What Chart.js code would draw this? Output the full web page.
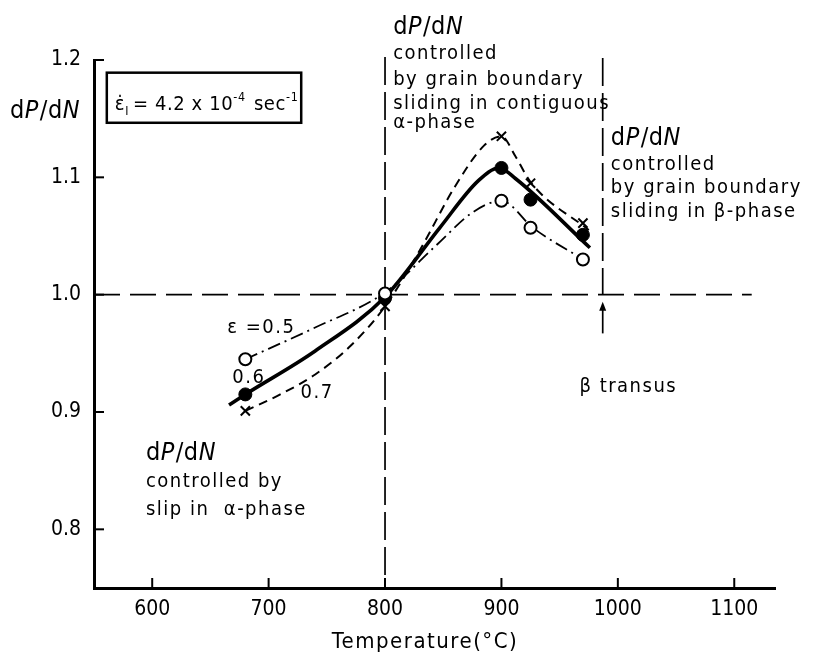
<!DOCTYPE html>
<html><head><meta charset="utf-8">
<script src="https://cdn.jsdelivr.net/npm/chart.js@4/dist/chart.umd.min.js"></script>
<style>html,body{margin:0;padding:0;background:#fff;}canvas{display:block}</style>
</head><body>
<canvas id="c" width="817" height="655"></canvas>
<script>
// ---- data ----
const temperatures = [680, 800, 900, 925, 970];          // °C
const eps05 = [0.945, 1.001, 1.080, 1.057, 1.030];       // open circles
const eps06 = [0.915, 0.997, 1.108, 1.081, 1.051];       // filled circles
const eps07 = [0.901, 0.990, 1.135, 1.095, 1.061];       // crosses

// hand-drawn curves, points
const curve05T = [680, 740, 800, 845, 875, 900, 927, 970];
const curve05V = [0.945, 0.972, 1.002, 1.043, 1.070, 1.080, 1.057, 1.030];
const curve06T = [666, 680, 740, 800, 847, 880, 898, 912, 976];
const curve06V = [0.906, 0.915, 0.952, 0.998, 1.057, 1.097, 1.108, 1.099, 1.040];
const curve07T = [680, 710, 740, 770, 800, 830, 860, 885, 900, 912, 925, 975];
const curve07V = [0.901, 0.915, 0.932, 0.956, 0.990, 1.038, 1.092, 1.127, 1.135, 1.118, 1.096, 1.055];

const xTicks = [600, 700, 800, 900, 1000, 1100];
const xTickLabels = ['600', '700', '800', '900', '1000', '1100'];
const yTicks = [0.8, 0.9, 1.0, 1.1, 1.2];
const yTickLabels = ['0.8', '0.9', '1.0', '1.1', '1.2'];

const referenceLevel = 1.0;
const alphaBoundaryT = 800;
const betaTransusT = 987;

// ---- helpers ----
const pts = (xs, ys) => xs.map((x, i) => ({x, y: ys[i]}));
const TXT = '"DejaVu Sans Condensed", "DejaVu Sans", sans-serif';

function drawRich(ctx, parts, x, y, size) {
  let cx = x;
  for (const p of parts) {
    const s = size * (p.scale || 1);
    ctx.font = (p.it ? 'italic ' : '') + s + 'px ' + TXT;
    ctx.fillText(p.t, cx, y + (p.dy || 0));
    cx += ctx.measureText(p.t).width + (p.gap || 0);
  }
  return cx;
}
const dPdN = [{t:'d'}, {t:'P', it:true, gap:1}, {t:'/'}, {t:'d'}, {t:'N', it:true}];

// text blocks anchored in data coordinates
const annotations = [
  {T: 807, lines: [[dPdN, 1.222], ['controlled', 1.2006], ['by grain boundary', 1.1787], ['sliding in contiguous', 1.158], ['α-phase', 1.1418]]},
  {T: 994, lines: [[dPdN, 1.1275], ['controlled', 1.1062], ['by grain boundary', 1.0869], ['sliding in β-phase', 1.0659]]},
  {T: 594.6, lines: [[dPdN, 0.859], ['controlled by', 0.8357], ['slip in  α-phase', 0.8121]]},
  {T: 967, lines: [['β transus', 0.917]]},
  {T: 664.5, lines: [['ε =0.5', 0.967]]},
  {T: 668.8, lines: [['0.6', 0.9246]]},
  {T: 727.4, lines: [['0.7', 0.9118]]}
];

const decor = {
  id: 'decor',
  beforeDatasetsDraw(chart) {
    const {ctx, scales: {x, y}, chartArea: a} = chart;
    ctx.save();
    ctx.strokeStyle = '#000';
    ctx.lineWidth = 1.7;
    ctx.setLineDash([26, 10]);
    ctx.beginPath();
    ctx.moveTo(a.left, y.getPixelForValue(referenceLevel));
    ctx.lineTo(x.getPixelForValue(1115), y.getPixelForValue(referenceLevel));
    ctx.stroke();
    ctx.setLineDash([28, 7]);
    ctx.beginPath();
    ctx.moveTo(x.getPixelForValue(alphaBoundaryT), a.top - 3);
    ctx.lineTo(x.getPixelForValue(alphaBoundaryT), a.bottom);
    ctx.stroke();
    ctx.beginPath();
    ctx.moveTo(x.getPixelForValue(betaTransusT), a.top - 2);
    ctx.lineTo(x.getPixelForValue(betaTransusT), y.getPixelForValue(referenceLevel));
    ctx.stroke();
    ctx.setLineDash([]);
    const ax = x.getPixelForValue(betaTransusT);
    const y0 = y.getPixelForValue(0.967), y1 = y.getPixelForValue(0.994);
    ctx.beginPath(); ctx.moveTo(ax, y0); ctx.lineTo(ax, y1 + 6); ctx.stroke();
    ctx.beginPath(); ctx.moveTo(ax, y1); ctx.lineTo(ax - 3.5, y1 + 9); ctx.lineTo(ax + 3.5, y1 + 9); ctx.closePath();
    ctx.fillStyle = '#000'; ctx.fill();
    ctx.restore();
  },
  afterDraw(chart) {
    const {ctx, scales: {x, y}, chartArea: a} = chart;
    ctx.save();
    ctx.strokeStyle = '#000'; ctx.fillStyle = '#000';
    ctx.lineWidth = 2;
    for (const t of xTicks) {
      const px = x.getPixelForValue(t);
      ctx.beginPath(); ctx.moveTo(px, a.bottom); ctx.lineTo(px, a.bottom - 10); ctx.stroke();
    }
    for (const t of yTicks) {
      const py = y.getPixelForValue(t);
      ctx.beginPath(); ctx.moveTo(a.left, py); ctx.lineTo(a.left + 10, py); ctx.stroke();
    }
    ctx.textBaseline = 'alphabetic';
    ctx.letterSpacing = '0.5px';
    drawRich(ctx, dPdN, 10, 118, 25);
    ctx.font = '22px ' + TXT;
    ctx.letterSpacing = '1.5px';
    ctx.textAlign = 'center';
    ctx.fillText('Temperature(°C)', 425, 648);
    ctx.textAlign = 'left';
    for (const blk of annotations) {
      const px = x.getPixelForValue(blk.T);
      for (const [content, v] of blk.lines) {
        const py = y.getPixelForValue(v);
        if (Array.isArray(content)) {
          ctx.letterSpacing = '0.5px';
          drawRich(ctx, content, px, py, 25);
        } else {
          ctx.letterSpacing = '1.5px';
          ctx.font = '20px ' + TXT;
          ctx.fillText(content, px, py);
        }
      }
    }
    ctx.letterSpacing = '0.6px';
    const bl = x.getPixelForValue(561), br = x.getPixelForValue(728);
    const bt = y.getPixelForValue(1.1892), bb = y.getPixelForValue(1.1465);
    ctx.lineWidth = 2.5;
    ctx.strokeRect(bl, bt, br - bl, bb - bt);
    const by = y.getPixelForValue(1.1575);
    drawRich(ctx, [
      {t:'ε̇'}, {t:'I', scale:0.6, dy:5, gap:4}, {t:'= 4.2 x 10'},
      {t:'-4', scale:0.62, dy:-9, gap:2}, {t:' sec'}, {t:'-1', scale:0.62, dy:-9}
    ], bl + 8, by, 20);
    ctx.restore();
  }
};

const lineCommon = {showLine: true, pointRadius: 0, borderColor: '#000', fill: false,
  cubicInterpolationMode: 'monotone', order: 1};

new Chart(document.getElementById('c'), {
  type: 'scatter',
  data: {
    datasets: [
      Object.assign({label: 'ε=0.5 curve', data: pts(curve05T, curve05V), borderWidth: 1.8, borderDash: [13, 5, 2, 5]}, lineCommon),
      Object.assign({label: 'ε=0.6 curve', data: pts(curve06T, curve06V), borderWidth: 3.6}, lineCommon),
      Object.assign({label: 'ε=0.7 curve', data: pts(curve07T, curve07V), borderWidth: 2, borderDash: [9, 6]}, lineCommon),
      {label: 'ε=0.5', data: pts(temperatures, eps05), pointStyle: 'circle', pointRadius: 6,
       backgroundColor: '#fff', borderColor: '#000', borderWidth: 2, order: 0},
      {label: 'ε=0.6', data: pts(temperatures, eps06), pointStyle: 'circle', pointRadius: 6.5,
       backgroundColor: '#000', borderColor: '#000', borderWidth: 1, order: 0},
      {label: 'ε=0.7', data: pts(temperatures, eps07), pointStyle: 'crossRot', pointRadius: 6.5,
       backgroundColor: '#000', borderColor: '#000', borderWidth: 2, order: 0}
    ]
  },
  options: {
    responsive: false, animation: false, events: [],
    layout: {padding: {top: 60, right: 42, left: 0, bottom: 0}},
    plugins: {legend: {display: false}, tooltip: {enabled: false}},
    scales: {
      x: {type: 'linear', min: 550, max: 1135,
          grid: {display: false, drawTicks: false},
          border: {display: true, width: 3, color: '#000'},
          afterBuildTicks: s => { s.ticks = xTicks.map(v => ({value: v})); },
          afterFit: s => { s.height = 67; },
          ticks: {color: '#000', padding: 9, font: {family: TXT, size: 21},
                  callback: v => xTickLabels[xTicks.indexOf(v)] ?? ''}},
      y: {type: 'linear', min: 0.75, max: 1.2,
          grid: {display: false, drawTicks: false},
          border: {display: true, width: 3, color: '#000'},
          afterBuildTicks: s => { s.ticks = yTicks.map(v => ({value: v})); },
          afterFit: s => { s.width = 94; },
          ticks: {color: '#000', padding: 13, font: {family: TXT, size: 21},
                  callback: v => yTickLabels[yTicks.indexOf(v)] ?? ''}}
    }
  },
  plugins: [decor]
});
</script>
</body></html>
